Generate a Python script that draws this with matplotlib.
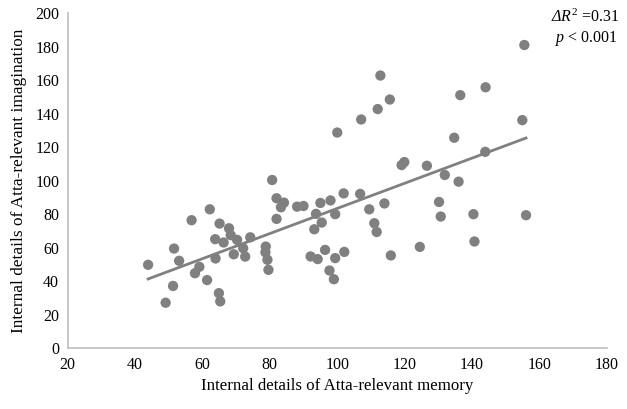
import numpy as np
import matplotlib
matplotlib.use("Agg")
import matplotlib.pyplot as plt

# Scatter values
memory = [
    43.9, 49.1, 51.3, 51.6, 53.1, 56.8, 57.8, 59.1, 61.4, 62.2,
    63.8, 63.9, 64.9, 65.3, 65.1, 66.3, 67.9, 68.4, 69.3, 70.3,
    72.1, 72.7, 74.2, 78.8, 78.7, 79.3, 79.6, 80.7, 82.0, 82.0,
    83.3, 84.2, 88.1, 90.0, 93.7, 95.0, 98.0, 101.9, 106.8, 99.4,
    95.4, 93.2, 109.5, 114.0, 111.0, 111.7, 92.1, 94.2, 96.4, 99.4,
    102.1, 97.7, 99.0, 115.9, 124.5, 130.2, 130.7, 119.1, 119.9, 126.6,
    131.9, 100.0, 107.1, 112.0, 115.6, 112.8, 155.5, 144.0, 136.5, 154.9,
    134.7, 143.9, 136.0, 140.4, 156.0, 140.7,
]
imagination = [
    49.8, 27.2, 37.2, 59.5, 52.2, 76.4, 44.8, 48.6, 40.7, 82.9,
    65.1, 53.6, 32.9, 28.0, 74.4, 63.1, 71.6, 67.5, 56.1, 64.7,
    59.7, 54.7, 66.2, 60.7, 57.3, 52.8, 46.8, 100.4, 89.5, 77.2,
    84.1, 86.9, 84.5, 84.9, 80.2, 86.7, 88.2, 92.4, 92.1, 80.0,
    75.0, 71.0, 82.9, 86.4, 74.6, 69.4, 54.8, 53.2, 58.7, 53.8,
    57.5, 46.4, 41.2, 55.4, 60.5, 87.3, 78.6, 109.3, 111.1, 108.9,
    103.4, 128.7, 136.5, 142.7, 148.4, 162.7, 180.9, 155.7, 151.0, 136.1,
    125.6, 117.2, 99.4, 80.0, 79.4, 63.7,
]

x_ticks = [20, 40, 60, 80, 100, 120, 140, 160, 180]
y_ticks = [0, 20, 40, 60, 80, 100, 120, 140, 160, 180, 200]

plt.rcParams['font.family'] = ['Liberation Serif', 'DejaVu Serif']
plt.rcParams['mathtext.fontset'] = 'custom'
plt.rcParams['mathtext.rm'] = 'Liberation Serif'
plt.rcParams['mathtext.it'] = 'Liberation Serif:italic'
# sf slot used only to get an italic capital Delta
plt.rcParams['mathtext.sf'] = 'Liberation Serif:italic'

fig = plt.figure(figsize=(6.27, 4.09), dpi=100)
ax = fig.add_axes([0.1077, 0.1484, 0.8603, 0.8198])

grey = '#808080'
ax.scatter(memory, imagination, s=55, color=grey, edgecolors='none', zorder=3)

# linear trend line
x = np.array(memory)
y = np.array(imagination)
slope, intercept = np.polyfit(x, y, 1)
xs = np.array([x.min(), x.max()])
ax.plot(xs, slope * xs + intercept, color=grey, linewidth=2, zorder=2)

ax.set_xlim(20, 180)
ax.set_ylim(0, 200)
ax.set_xticks(x_ticks)
ax.set_yticks(y_ticks)
ax.tick_params(length=0, labelsize=11.5, colors='#000000', pad=6)

for side in ['top', 'right']:
    ax.spines[side].set_visible(False)
for side in ['left', 'bottom']:
    ax.spines[side].set_color('#BFBFBF')
    ax.spines[side].set_linewidth(1.2)

ax.set_xlabel('Internal details of Atta-relevant memory', fontsize=12.2, labelpad=4)
ax.set_ylabel('Internal details of Atta-relevant imagination', fontsize=12.4, labelpad=6)

fig.text(0.989, 0.978, r'$\mathsf{Δ}\mathit{R}^2$ =0.31', ha='right', va='top', fontsize=11.5)
fig.text(0.986, 0.928, r'$p$ < 0.001', ha='right', va='top', fontsize=11.5)

fig.savefig('out.png', dpi=100)
